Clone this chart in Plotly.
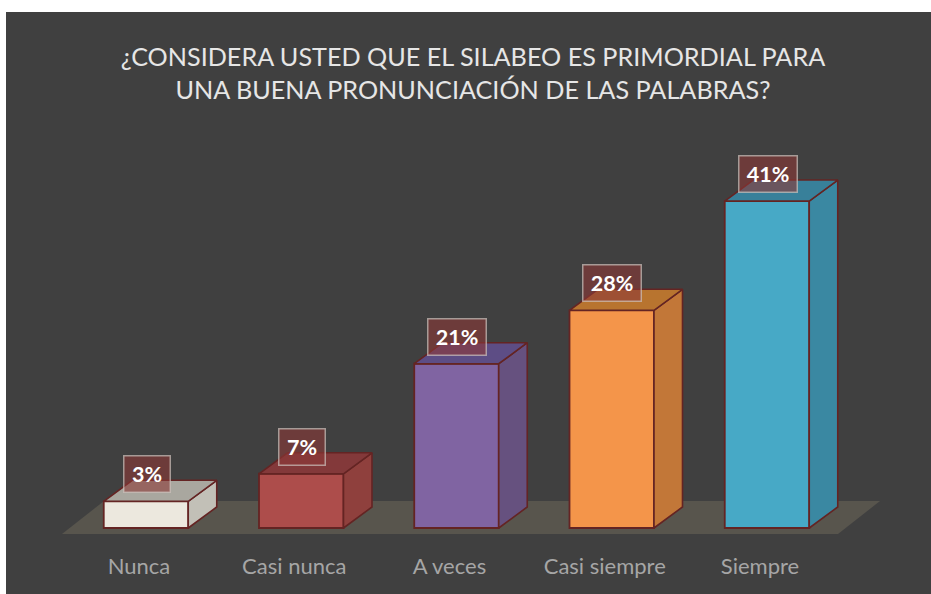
import plotly.graph_objects as go

categories = ["Nunca", "Casi nunca", "A veces", "Casi siempre", "Siempre"]
values = [3.4, 6.9, 20.9, 27.7, 41.6]
labels = ["3%", "7%", "21%", "28%", "41%"]
front_colors = ["#ece8de", "#ad4d4b", "#8064a2", "#f4954a", "#47a9c6"]
side_colors = ["#c2c0b7", "#8f403d", "#66517f", "#c27738", "#3a88a2"]
top_colors = ["#a9a79f", "#83393a", "#5d4d85", "#b8742f", "#38809a"]
title_lines = ["¿CONSIDERA USTED QUE EL SILABEO ES PRIMORDIAL PARA",
               "UNA BUENA PRONUNCIACIÓN DE LAS PALABRAS?"]

W, H = 931, 594
PANEL_L, PANEL_T = 6, 12
PX_PER_CAT = 155.25
PX_PER_PCT = 7.86
X0_PX = 146.0   # pixel of first category centre
Y0_PX = 528.0   # pixel of value zero
BAR_PX = 84.5

plot_w = W - PANEL_L
plot_h = H - PANEL_T
x_range = [(PANEL_L - X0_PX) / PX_PER_CAT, (W - X0_PX) / PX_PER_CAT]
y_range = [(Y0_PX - H) / PX_PER_PCT, (Y0_PX - PANEL_T) / PX_PER_PCT]
bw = BAR_PX / PX_PER_CAT
dx = 28.5 / PX_PER_CAT
dy = 21.0 / PX_PER_PCT
outline = "#642423"
FONT = "Lato, Carlito, sans-serif"

fig = go.Figure()

for i, v in enumerate(values):
    l, r = i - bw / 2, i + bw / 2
    fig.add_trace(go.Scatter(
        x=[r, r + dx, r + dx, r, r], y=[0, dy, v + dy, v, 0],
        mode="lines", fill="toself", fillcolor=side_colors[i],
        line=dict(color=outline, width=1.6), hoverinfo="skip", showlegend=False))
    fig.add_trace(go.Scatter(
        x=[l, r, r + dx, l + dx, l], y=[v, v, v + dy, v + dy, v],
        mode="lines", fill="toself", fillcolor=top_colors[i],
        line=dict(color=outline, width=1.6), hoverinfo="skip", showlegend=False))

fig.add_trace(go.Bar(
    x=list(range(len(values))), y=values, width=bw,
    marker=dict(color=front_colors, line=dict(color=outline, width=1.8)),
    showlegend=False, hoverinfo="skip"))

# floor
fx = lambda p: (p - X0_PX) / PX_PER_CAT
fy = lambda p: (Y0_PX - p) / PX_PER_PCT
fig.add_shape(type="path", layer="below", xref="x", yref="y", line=dict(width=0), fillcolor="#58554d",
              path=f"M {fx(62)} {fy(534)} L {fx(838)} {fy(534)} L {fx(880)} {fy(501)} L {fx(104)} {fy(501)} Z")

for i, v in enumerate(values):
    fig.add_annotation(
        x=i, xshift=0.5, y=v, yshift=27, text=f"<b>{labels[i]}</b>", showarrow=False,
        font=dict(family=FONT, size=21.5, color="white"),
        bgcolor="rgba(140,57,55,0.6)", bordercolor="rgba(205,195,190,0.7)",
        borderwidth=1.5, borderpad=0, width=45 if len(labels[i]) == 2 else 57,
        height=35, align="center", valign="middle")

fig.update_layout(
    width=W, height=H, autosize=False,
    paper_bgcolor="white", plot_bgcolor="#404040",
    margin=dict(l=PANEL_L, r=0, t=PANEL_T, b=0, pad=0),
    barmode="overlay",
    title=dict(text="<br>".join(title_lines), x=(473 - PANEL_L) / plot_w, xanchor="center",
               xref="paper", y=1 - 66 / H, yanchor="middle",
               font=dict(family=FONT, size=25.2, color="#e6e6e6")),
    xaxis=dict(range=x_range, tickmode="array",
               tickvals=[i - 7 / PX_PER_CAT for i in range(5)], ticktext=categories,
               showgrid=False, zeroline=False, showline=False, ticks="", ticklen=0,
               tickfont=dict(family=FONT, size=22, color="#a6a6a6"),
               anchor="free", position=(H - 551) / plot_h),
    yaxis=dict(range=y_range, visible=False, showgrid=False, zeroline=False),
)
fig.write_html("out.html", config={"displayModeBar": False},
               post_script="document.body.style.margin='0';")
